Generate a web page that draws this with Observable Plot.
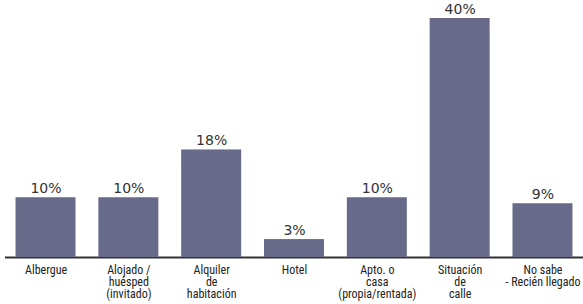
<!DOCTYPE html>
<html><head><meta charset="utf-8">
<script src="https://cdn.jsdelivr.net/npm/d3@7"></script>
<script src="https://cdn.jsdelivr.net/npm/@observablehq/plot@0.6"></script>
<style>
body{margin:0;background:#fff;}
#chart svg{display:block;}
</style></head>
<body><div id="chart"></div>
<script>
const categories = ["Albergue", "Alojado /\nhuésped\n(invitado)", "Alquiler\nde\nhabitación", "Hotel", "Apto. o\ncasa\n(propia/rentada)", "Situación\nde\ncalle", "No sabe\n- Recién llegado"];
const values = [10, 10, 18, 3, 10, 40, 9];
const labels = ["10%", "10%", "18%", "3%", "10%", "40%", "9%"];
const data = categories.map((c, i) => ({cat: c, value: values[i], label: labels[i]}));

const chart = Plot.plot({
  width: 583,
  height: 304,
  marginTop: 18,
  marginBottom: 47,
  marginLeft: 5,
  marginRight: 0,
  x: {domain: categories, paddingInner: 0.2756, paddingOuter: 0.127, round: false, label: null},
  y: {domain: [0, 40], axis: null},
  style: {background: "#fff"},
  marks: [
    Plot.ruleY([0], {stroke: "#333", strokeWidth: 2}),
    Plot.barY(data, {x: "cat", y: "value", fill: "#676b89"}),
    Plot.text(data, {x: "cat", y: "value", text: "label", dy: -9, fontSize: 14, fill: "#333", fontFamily: "'URW Gothic', 'Century Gothic', 'DejaVu Sans', sans-serif"}),
    Plot.axisX({tickSize: 0, tickPadding: 8, fontSize: 12, fill: "#222", lineHeight: 1.0, fontFamily: "'Liberation Sans Narrow', 'Roboto Condensed', 'Open Sans', sans-serif"})
  ]
});
document.getElementById("chart").append(chart);
</script></body></html>
